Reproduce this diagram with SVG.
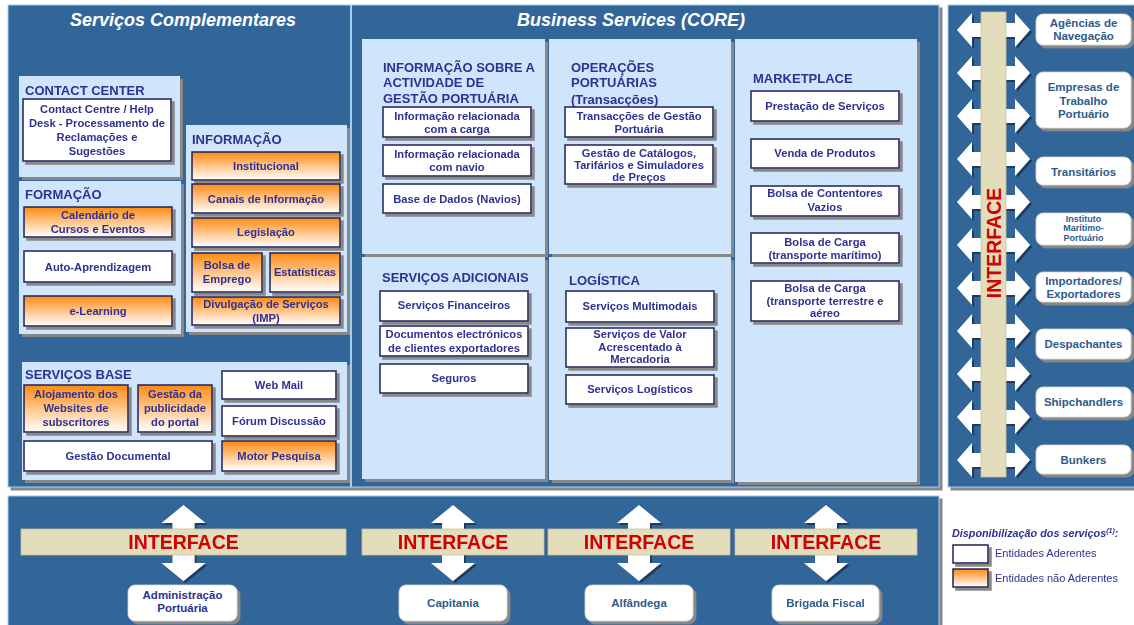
<svg xmlns="http://www.w3.org/2000/svg" xmlns:xlink="http://www.w3.org/1999/xlink" width="1134" height="625" viewBox="0 0 1134 625">
  <defs>
    <style>
      .panel { fill: #336699; stroke: #9fd0f0; stroke-width: 1; }
      .lb { fill: #cfe5fb; }
      .wb { fill: #ffffff; stroke: #1f1f5c; stroke-width: 1.5; }
      .ob { fill: url(#orange); stroke: #1f1f5c; stroke-width: 1.5; }
      .rb { fill: #ffffff; stroke: #d8d8d8; stroke-width: 0.8; }
      .bar { fill: #e4ddbb; stroke: #c8c09c; stroke-width: 0.8; }
      .arr { fill: #ffffff; }
      .t { font-family: "Liberation Sans", Arial, sans-serif; font-weight: bold; font-size: 11.2px; fill: #2e3192; text-anchor: middle; }
      .h { font-family: "Liberation Sans", Arial, sans-serif; font-weight: bold; font-size: 13px; fill: #2e3192; }
      .ttl { font-family: "Liberation Sans", Arial, sans-serif; font-weight: bold; font-style: italic; font-size: 18px; fill: #ffffff; text-anchor: middle; }
      .ifc { font-family: "Liberation Sans", Arial, sans-serif; font-weight: bold; font-size: 19.5px; fill: #d00000; text-anchor: middle; }
      .n { font-family: "Liberation Sans", Arial, sans-serif; font-weight: bold; font-size: 11.5px; fill: #2e5b8a; text-anchor: middle; }
      .lg { font-family: "Liberation Sans", Arial, sans-serif; font-size: 11px; fill: #2e3192; }
      .lgt { font-family: "Liberation Sans", Arial, sans-serif; font-size: 10.8px; font-weight: bold; font-style: italic; fill: #2e3192; }
    </style>
    <linearGradient id="orange" x1="0" y1="0" x2="0" y2="1">
      <stop offset="0" stop-color="#ff8a12"/>
      <stop offset="0.5" stop-color="#ffc58a"/>
      <stop offset="1" stop-color="#ffffff"/>
    </linearGradient>
    <!-- flat grey drop shadow used by boxes and panels -->
    <filter id="sh" x="-10%" y="-10%" width="130%" height="140%">
      <feFlood flood-color="#888888"/>
      <feComposite in2="SourceAlpha" operator="in"/>
      <feOffset dx="3" dy="3" result="s"/>
      <feMerge><feMergeNode in="s"/><feMergeNode in="SourceGraphic"/></feMerge>
    </filter>
    <!-- dark edge under the white arrows -->
    <filter id="ash" x="-20%" y="-20%" width="150%" height="150%">
      <feFlood flood-color="#1a3a60"/>
      <feComposite in2="SourceAlpha" operator="in"/>
      <feOffset dx="1.5" dy="1.5" result="s"/>
      <feMerge><feMergeNode in="s"/><feMergeNode in="SourceGraphic"/></feMerge>
    </filter>
    <path id="harr" d="M-36.5,0 L-21.5,-17 L-21.5,-7 L21.5,-7 L21.5,-17 L36.5,0 L21.5,17 L21.5,7 L-21.5,7 L-21.5,17 Z"/>
    <path id="varr" d="M0,-38 L22,-20 L11,-20 L11,20 L22,20 L0,38 L-22,20 L-11,20 L-11,-20 L-22,-20 Z"/>
  </defs>

  <rect x="0" y="0" width="1134" height="625" fill="#ffffff"/>

  <!-- panels -->
  <g id="panels">
    <rect class="panel" x="8" y="5" width="931" height="482" filter="url(#sh)"/>
    <line x1="351" y1="5" x2="351" y2="487" stroke="#9fd0f0" stroke-width="2"/>
    <rect class="panel" x="948" y="5" width="190" height="482" filter="url(#sh)"/>
    <rect class="panel" x="8" y="496" width="931" height="135" filter="url(#sh)"/>
    <text class="ttl" x="183" y="26">Serviços Complementares</text>
    <text class="ttl" x="631" y="26">Business Services (CORE)</text>
  </g>

  <!-- connectors -->
  <g id="connectors" filter="url(#ash)">
    <use href="#harr" class="arr" x="993.5" y="30"/>
    <use href="#harr" class="arr" x="993.5" y="73"/>
    <use href="#harr" class="arr" x="993.5" y="116"/>
    <use href="#harr" class="arr" x="993.5" y="159"/>
    <use href="#harr" class="arr" x="993.5" y="202"/>
    <use href="#harr" class="arr" x="993.5" y="245"/>
    <use href="#harr" class="arr" x="993.5" y="288"/>
    <use href="#harr" class="arr" x="993.5" y="331"/>
    <use href="#harr" class="arr" x="993.5" y="374"/>
    <use href="#harr" class="arr" x="993.5" y="417"/>
    <use href="#harr" class="arr" x="993.5" y="460"/>
    <use href="#varr" class="arr" x="183.5" y="543"/>
    <use href="#varr" class="arr" x="453" y="543"/>
    <use href="#varr" class="arr" x="639" y="543"/>
    <use href="#varr" class="arr" x="826" y="543"/>
  </g>

  <!-- interface bars -->
  <g id="interface-vertical">
    <rect class="bar" x="981" y="12" width="25" height="465"/>
    <text class="ifc" transform="translate(1000.5,243) rotate(-90)">INTERFACE</text>
  </g>
  <g id="interface-1"><rect class="bar" x="21" y="529" width="325" height="26"/><text class="ifc" x="183.5" y="549">INTERFACE</text></g>
  <g id="interface-2"><rect class="bar" x="362" y="529" width="182" height="26"/><text class="ifc" x="453" y="549">INTERFACE</text></g>
  <g id="interface-3"><rect class="bar" x="548" y="529" width="182" height="26"/><text class="ifc" x="639" y="549">INTERFACE</text></g>
  <g id="interface-4"><rect class="bar" x="735" y="529" width="182" height="26"/><text class="ifc" x="826" y="549">INTERFACE</text></g>

  <!-- Serviços Complementares -->
  <g id="contact-center">
    <rect class="lb" x="19" y="76" width="161" height="101" filter="url(#sh)"/>
    <text class="h" x="25" y="95">CONTACT CENTER</text>
    <rect class="wb" x="23" y="99" width="148" height="62" filter="url(#sh)"/>
    <text class="t"><tspan x="97" y="113">Contact Centre / Help</tspan><tspan x="97" y="127">Desk - Processamento de</tspan><tspan x="97" y="141">Reclamações e</tspan><tspan x="97" y="155">Sugestões</tspan></text>
  </g>
  <g id="formacao">
    <rect class="lb" x="19" y="181" width="162" height="153" filter="url(#sh)"/>
    <text class="h" x="25" y="199">FORMAÇÃO</text>
    <rect class="ob" x="24" y="207" width="148" height="30" filter="url(#sh)"/>
    <text class="t"><tspan x="98" y="219">Calendário de</tspan><tspan x="98" y="233">Cursos e Eventos</tspan></text>
    <rect class="wb" x="24" y="251" width="148" height="31" filter="url(#sh)"/>
    <text class="t" x="98" y="271">Auto-Aprendizagem</text>
    <rect class="ob" x="24" y="296" width="148" height="30" filter="url(#sh)"/>
    <text class="t" x="98" y="315">e-Learning</text>
  </g>
  <g id="informacao">
    <rect class="lb" x="186" y="125" width="161" height="207" filter="url(#sh)"/>
    <text class="h" x="192" y="144">INFORMAÇÃO</text>
    <rect class="ob" x="192" y="152" width="148" height="28" filter="url(#sh)"/>
    <text class="t" x="266" y="170">Institucional</text>
    <rect class="ob" x="192" y="184" width="148" height="29" filter="url(#sh)"/>
    <text class="t" x="266" y="203">Canais de Informação</text>
    <rect class="ob" x="192" y="218" width="148" height="29" filter="url(#sh)"/>
    <text class="t" x="266" y="236">Legislação</text>
    <rect class="ob" x="192" y="253" width="70" height="39" filter="url(#sh)"/>
    <text class="t"><tspan x="227" y="269">Bolsa de</tspan><tspan x="227" y="283">Emprego</tspan></text>
    <rect class="ob" x="270" y="253" width="70" height="39" filter="url(#sh)"/>
    <text class="t" x="305" y="276">Estatísticas</text>
    <rect class="ob" x="192" y="297" width="148" height="28" filter="url(#sh)"/>
    <text class="t"><tspan x="266" y="308">Divulgação de Serviços</tspan><tspan x="266" y="322">(IMP)</tspan></text>
  </g>
  <g id="servicos-base">
    <rect class="lb" x="22" y="362" width="325" height="118" filter="url(#sh)"/>
    <text class="h" x="25" y="379">SERVIÇOS BASE</text>
    <rect class="ob" x="24" y="385" width="104" height="47" filter="url(#sh)"/>
    <text class="t"><tspan x="76" y="398">Alojamento dos</tspan><tspan x="76" y="412">Websites de</tspan><tspan x="76" y="426">subscritores</tspan></text>
    <rect class="ob" x="138" y="385" width="74" height="47" filter="url(#sh)"/>
    <text class="t"><tspan x="175" y="398">Gestão da</tspan><tspan x="175" y="412">publicidade</tspan><tspan x="175" y="426">do portal</tspan></text>
    <rect class="wb" x="222" y="371" width="114" height="28" filter="url(#sh)"/>
    <text class="t" x="279" y="389">Web Mail</text>
    <rect class="wb" x="222" y="406" width="114" height="30" filter="url(#sh)"/>
    <text class="t" x="279" y="425">Fórum Discussão</text>
    <rect class="ob" x="222" y="441" width="114" height="30" filter="url(#sh)"/>
    <text class="t" x="279" y="460">Motor Pesquisa</text>
    <rect class="wb" x="24" y="441" width="188" height="30" filter="url(#sh)"/>
    <text class="t" x="118" y="460">Gestão Documental</text>
  </g>

  <!-- Business Services (CORE) -->
  <g id="gestao-portuaria">
    <rect class="lb" x="362" y="39" width="183" height="215" filter="url(#sh)"/>
    <text class="h"><tspan x="383" y="72">INFORMAÇÃO SOBRE A</tspan><tspan x="383" y="87">ACTIVIDADE DE</tspan><tspan x="383" y="103">GESTÃO PORTUÁRIA</tspan></text>
    <rect class="wb" x="383" y="107" width="148" height="30" filter="url(#sh)"/>
    <text class="t"><tspan x="457" y="120">Informação relacionada</tspan><tspan x="457" y="133">com  a carga</tspan></text>
    <rect class="wb" x="383" y="145" width="148" height="31" filter="url(#sh)"/>
    <text class="t"><tspan x="457" y="158">Informação relacionada</tspan><tspan x="457" y="171">com navio</tspan></text>
    <rect class="wb" x="383" y="184" width="148" height="29" filter="url(#sh)"/>
    <text class="t" x="457" y="203">Base de Dados (Navios)</text>
  </g>
  <g id="operacoes-portuarias">
    <rect class="lb" x="549" y="39" width="182" height="215" filter="url(#sh)"/>
    <text class="h"><tspan x="571" y="72">OPERAÇÕES</tspan><tspan x="571" y="87">PORTUÁRIAS</tspan><tspan x="571" y="104">(Transacções)</tspan></text>
    <rect class="wb" x="565" y="107" width="148" height="30" filter="url(#sh)"/>
    <text class="t"><tspan x="639" y="120">Transacções de Gestão</tspan><tspan x="639" y="133">Portuária</tspan></text>
    <rect class="wb" x="565" y="145" width="148" height="39" filter="url(#sh)"/>
    <text class="t"><tspan x="639" y="157">Gestão de Catálogos,</tspan><tspan x="639" y="169">Tarifários e Simuladores</tspan><tspan x="639" y="181">de Preços</tspan></text>
  </g>
  <g id="marketplace">
    <rect class="lb" x="735" y="39" width="182" height="443" filter="url(#sh)"/>
    <text class="h" x="753" y="83">MARKETPLACE</text>
    <rect class="wb" x="751" y="91" width="148" height="30" filter="url(#sh)"/>
    <text class="t" x="825" y="110">Prestação de Serviços</text>
    <rect class="wb" x="751" y="139" width="148" height="29" filter="url(#sh)"/>
    <text class="t" x="825" y="157">Venda de Produtos</text>
    <rect class="wb" x="751" y="186" width="148" height="30" filter="url(#sh)"/>
    <text class="t"><tspan x="825" y="197">Bolsa de Contentores</tspan><tspan x="825" y="211">Vazios</tspan></text>
    <rect class="wb" x="751" y="233" width="148" height="30" filter="url(#sh)"/>
    <text class="t"><tspan x="825" y="246">Bolsa de Carga</tspan><tspan x="825" y="259">(transporte marítimo)</tspan></text>
    <rect class="wb" x="751" y="281" width="148" height="40" filter="url(#sh)"/>
    <text class="t"><tspan x="825" y="292">Bolsa de Carga</tspan><tspan x="825" y="305">(transporte terrestre e</tspan><tspan x="825" y="317">aéreo</tspan></text>
  </g>
  <g id="servicos-adicionais">
    <rect class="lb" x="362" y="257" width="183" height="222" filter="url(#sh)"/>
    <text class="h" x="382" y="282">SERVIÇOS ADICIONAIS</text>
    <rect class="wb" x="380" y="291" width="148" height="30" filter="url(#sh)"/>
    <text class="t" x="454" y="309">Serviços Financeiros</text>
    <rect class="wb" x="380" y="326" width="148" height="30" filter="url(#sh)"/>
    <text class="t"><tspan x="454" y="338">Documentos electrónicos</tspan><tspan x="454" y="352">de clientes exportadores</tspan></text>
    <rect class="wb" x="380" y="364" width="148" height="29" filter="url(#sh)"/>
    <text class="t" x="454" y="382">Seguros</text>
  </g>
  <g id="logistica">
    <rect class="lb" x="549" y="257" width="182" height="223" filter="url(#sh)"/>
    <text class="h" x="569" y="285">LOGÍSTICA</text>
    <rect class="wb" x="566" y="291" width="148" height="31" filter="url(#sh)"/>
    <text class="t" x="640" y="310">Serviços Multimodais</text>
    <rect class="wb" x="566" y="328" width="148" height="39" filter="url(#sh)"/>
    <text class="t"><tspan x="640" y="338">Serviços de Valor</tspan><tspan x="640" y="351">Acrescentado à</tspan><tspan x="640" y="363">Mercadoria</tspan></text>
    <rect class="wb" x="566" y="375" width="148" height="29" filter="url(#sh)"/>
    <text class="t" x="640" y="393">Serviços Logísticos</text>
  </g>

  <!-- external entities -->
  <g id="agencias"><rect class="rb" x="1036" y="14" width="95" height="31" rx="7" filter="url(#sh)"/><text class="n"><tspan x="1083.5" y="27">Agências de</tspan><tspan x="1083.5" y="40">Navegação</tspan></text></g>
  <g id="empresas"><rect class="rb" x="1036" y="72" width="95" height="56" rx="7" filter="url(#sh)"/><text class="n"><tspan x="1083.5" y="91">Empresas de</tspan><tspan x="1083.5" y="105">Trabalho</tspan><tspan x="1083.5" y="118">Portuário</tspan></text></g>
  <g id="transitarios"><rect class="rb" x="1036" y="157" width="95" height="28" rx="7" filter="url(#sh)"/><text class="n" x="1083.5" y="176">Transitários</text></g>
  <g id="instituto"><rect class="rb" x="1036" y="213" width="95" height="32" rx="7" filter="url(#sh)"/><text class="n" style="font-size:9px"><tspan x="1083.5" y="221.5">Instituto</tspan><tspan x="1083.5" y="231">Marítimo-</tspan><tspan x="1083.5" y="240.5">Portuário</tspan></text></g>
  <g id="importadores"><rect class="rb" x="1036" y="272" width="95" height="30" rx="7" filter="url(#sh)"/><text class="n"><tspan x="1083.5" y="285">Importadores/</tspan><tspan x="1083.5" y="298">Exportadores</tspan></text></g>
  <g id="despachantes"><rect class="rb" x="1036" y="329" width="95" height="30" rx="7" filter="url(#sh)"/><text class="n" x="1083.5" y="348">Despachantes</text></g>
  <g id="shipchandlers"><rect class="rb" x="1036" y="387" width="95" height="30" rx="7" filter="url(#sh)"/><text class="n" x="1083.5" y="406">Shipchandlers</text></g>
  <g id="bunkers"><rect class="rb" x="1036" y="445" width="95" height="29" rx="7" filter="url(#sh)"/><text class="n" x="1083.5" y="464">Bunkers</text></g>

  <g id="administracao"><rect class="rb" x="128" y="585" width="109" height="36" rx="7" filter="url(#sh)"/><text class="n" style="fill:#2e3192"><tspan x="182.5" y="599">Administração</tspan><tspan x="182.5" y="612">Portuária</tspan></text></g>
  <g id="capitania"><rect class="rb" x="399" y="585" width="108" height="36" rx="7" filter="url(#sh)"/><text class="n" x="453" y="607">Capitania</text></g>
  <g id="alfandega"><rect class="rb" x="585" y="585" width="108" height="36" rx="7" filter="url(#sh)"/><text class="n" x="639" y="607">Alfândega</text></g>
  <g id="brigada"><rect class="rb" x="772" y="585" width="107" height="36" rx="7" filter="url(#sh)"/><text class="n" x="825.5" y="607">Brigada Fiscal</text></g>

  <!-- legend -->
  <g id="legend">
    <text class="lgt" x="952" y="537">Disponibilização dos serviços<tspan font-size="7px" dy="-4">(1)</tspan><tspan dy="4">:</tspan></text>
    <rect class="wb" x="953" y="545" width="35" height="18" filter="url(#sh)"/>
    <text class="lg" x="995" y="557">Entidades Aderentes</text>
    <rect class="ob" x="953" y="569" width="35" height="18" filter="url(#sh)"/>
    <text class="lg" x="995" y="582">Entidades não Aderentes</text>
  </g>
</svg>
